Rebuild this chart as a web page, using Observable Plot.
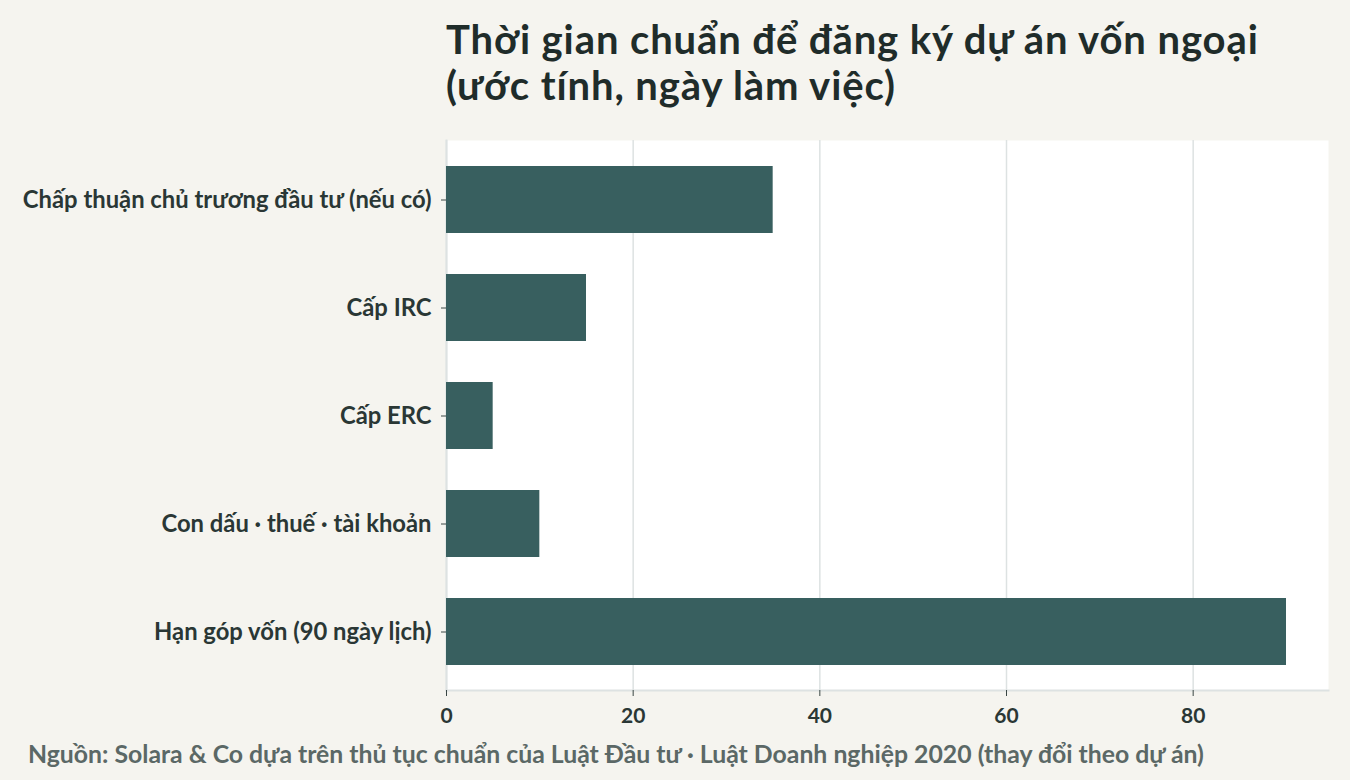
<!DOCTYPE html>
<html>
<head>
<meta charset="utf-8">
<script src="https://cdn.jsdelivr.net/npm/d3@7"></script>
<script src="https://cdn.jsdelivr.net/npm/@observablehq/plot@0.6"></script>
<style>
  html, body { margin: 0; padding: 0; background: #f5f4ef; }
  body { width: 1350px; height: 780px; position: relative; overflow: hidden; font-family: Lato, "Open Sans", sans-serif; }
  .title { position: absolute; left: 446px; font-size: 40px; line-height: 42px; height: 42px; font-weight: 700; letter-spacing: 0.9px; color: #1f2c2a; white-space: nowrap; }
  #t1 { top: 18px; }
  #t2 { top: 64px; }
  #chart { position: absolute; left: 0; top: 130px; }
  #caption { position: absolute; left: 28px; top: 739px; font-size: 24.8px; font-weight: 700; color: #5b6866; white-space: nowrap; }
</style>
</head>
<body>
<div class="title" id="t1">Thời gian chuẩn để đăng ký dự án vốn ngoại</div>
<div class="title" id="t2">(ước tính, ngày làm việc)</div>
<div id="chart"></div>
<div id="caption">Nguồn: Solara &amp; Co dựa trên thủ tục chuẩn của Luật Đầu tư · Luật Doanh nghiệp 2020 (thay đổi theo dự án)</div>
<script>
const categories = [
  "Chấp thuận chủ trương đầu tư (nếu có)",
  "Cấp IRC",
  "Cấp ERC",
  "Con dấu · thuế · tài khoản",
  "Hạn góp vốn (90 ngày lịch)"
];
const days = [35, 15, 5, 10, 90];
const xTicks = [0, 20, 40, 60, 80];
const xMax = 94.5;

const data = categories.map((c, i) => ({category: c, days: days[i]}));

const plot = Plot.plot({
  width: 1350,
  height: 605,
  marginLeft: 446,
  marginRight: 22,
  marginTop: 10,
  marginBottom: 45,
  style: {background: "transparent", fontFamily: "Lato, 'Open Sans', sans-serif", color: "#2a3735"},
  x: {domain: [0, xMax], label: null},
  y: {domain: categories, paddingInner: 0.384, paddingOuter: 0.22, label: null},
  marks: [
    Plot.frame({fill: "white", stroke: null}),
    Plot.gridX(xTicks, {stroke: "#dde2e2", strokeOpacity: 1, strokeWidth: 1.5}),
    Plot.frame({anchor: "bottom", stroke: "#dde2e2", strokeOpacity: 1, strokeWidth: 2}),
    Plot.frame({anchor: "left", stroke: "#dde2e2", strokeOpacity: 1, strokeWidth: 2}),
    Plot.barX(data, {x: "days", y: "category", fill: "#385f5f"}),
    Plot.axisX(xTicks, {tickSize: 6, tickPadding: 12, fontSize: 21, fontWeight: 700, stroke: "#3a4644", fill: "#2a3735"}),
    Plot.axisY({tickSize: 5, tickPadding: 10, fontSize: 23.8, fontWeight: 700, stroke: "#3a4644", fill: "#2a3735"})
  ]
});
document.getElementById("chart").appendChild(plot);
</script>
</body>
</html>
